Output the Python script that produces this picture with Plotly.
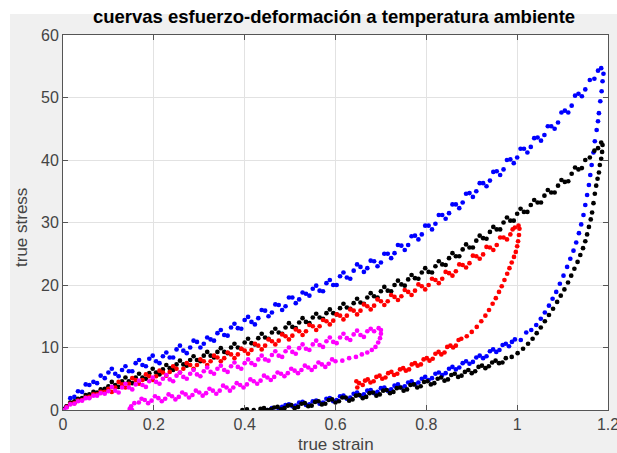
import plotly.graph_objects as go

# ---------------- data ----------------
title_text = "cuervas esfuerzo-deformación a temperatura ambiente"
x_label = "true strain"
y_label = "true stress"
x_ticks = [0, 0.2, 0.4, 0.6, 0.8, 1, 1.2]
y_ticks = [0, 10, 20, 30, 40, 50, 60]

# ---- blue loop ----
blue_load_x = [0.000, 0.008, 0.016, 0.025, 0.033, 0.042, 0.050, 0.058, 0.067, 0.075, 0.083, 0.092, 0.100, 0.115, 0.130, 0.145, 0.160, 0.175, 0.190, 0.205, 0.220, 0.235, 0.250, 0.265, 0.280, 0.295, 0.310, 0.325, 0.340, 0.355, 0.370, 0.385, 0.400, 0.415, 0.430, 0.445, 0.460, 0.475, 0.490, 0.505, 0.520, 0.535, 0.550, 0.565, 0.580, 0.595, 0.610, 0.625, 0.640, 0.655, 0.670, 0.685, 0.700, 0.715, 0.730, 0.745, 0.760, 0.775, 0.790, 0.805, 0.820, 0.835, 0.850, 0.865, 0.880, 0.895, 0.910, 0.925, 0.940, 0.955, 0.970, 0.985, 1.000, 1.015, 1.030, 1.045, 1.060, 1.075, 1.090, 1.105, 1.120, 1.135, 1.150, 1.160, 1.170, 1.178, 1.185]
blue_load_y = [0.2, 0.6, 1.9, 2.1, 3.0, 2.9, 4.1, 4.0, 4.5, 4.3, 5.5, 5.1, 6.0, 5.8, 6.4, 6.2, 7.5, 7.2, 8.2, 7.8, 8.6, 8.4, 9.7, 9.5, 10.0, 10.9, 10.6, 11.3, 12.3, 12.0, 13.2, 13.1, 14.4, 14.1, 14.7, 15.9, 15.6, 16.8, 16.6, 18.0, 17.7, 18.6, 19.4, 19.1, 20.3, 20.0, 21.4, 21.2, 22.3, 22.9, 22.7, 23.8, 23.6, 25.0, 25.1, 26.3, 26.4, 27.9, 28.1, 29.5, 29.8, 31.2, 31.5, 32.9, 33.2, 34.7, 35.0, 36.3, 36.7, 38.2, 38.5, 40.1, 40.4, 41.8, 42.1, 43.6, 44.0, 45.4, 46.0, 47.9, 48.7, 50.6, 51.3, 52.8, 53.0, 54.3, 54.7]
blue_load2_x = [0.1075, 0.1225, 0.1375, 0.1525, 0.1675, 0.1825, 0.1975, 0.2125, 0.2275, 0.2425, 0.2575, 0.2725, 0.2875, 0.3025, 0.3175, 0.3325, 0.3475, 0.3625, 0.3775, 0.3925, 0.4075, 0.4225, 0.4375, 0.4525, 0.4675, 0.4825, 0.4975, 0.5125, 0.5275, 0.5425, 0.5575, 0.5725, 0.5875, 0.6025, 0.6175, 0.6325, 0.6475, 0.6625, 0.6775, 0.6925, 0.7075, 0.7225, 0.7375, 0.7525, 0.7675, 0.7825, 0.7975, 0.8125, 0.8275, 0.8425, 0.8575, 0.8725, 0.8875, 0.9025, 0.9175, 0.9325, 0.9475, 0.9625, 0.9775, 0.9925, 1.0075, 1.0225, 1.0375, 1.0525, 1.0675, 1.0825, 1.0975, 1.1125, 1.1275, 1.1425]
blue_load2_y = [6.6, 5.4, 7.0, 6.2, 8.0, 7.0, 8.7, 7.5, 9.2, 8.4, 10.3, 9.1, 11.1, 10.0, 11.6, 11.1, 12.8, 11.9, 13.8, 13.0, 14.9, 13.7, 16.0, 15.0, 16.9, 16.0, 18.0, 17.1, 18.8, 18.3, 19.9, 19.0, 20.8, 20.0, 22.0, 21.0, 23.3, 22.1, 23.9, 23.0, 25.0, 24.3, 26.4, 25.6, 27.8, 27.3, 29.5, 28.9, 31.2, 30.6, 32.9, 32.3, 34.6, 34.1, 36.3, 35.8, 38.1, 37.6, 40.0, 39.5, 41.8, 41.2, 43.5, 43.1, 45.4, 45.0, 47.6, 47.6, 50.3, 50.2]
blue_unload_x = [1.190, 1.188, 1.186, 1.183, 1.180, 1.178, 1.175, 1.171, 1.168, 1.164, 1.161, 1.158, 1.154, 1.150, 1.146, 1.141, 1.136, 1.130, 1.124, 1.117, 1.110, 1.102, 1.094, 1.086, 1.078, 1.070, 1.061, 1.052, 1.042, 1.031, 1.020, 1.008, 0.995, 0.982, 0.968, 0.954, 0.940, 0.925, 0.910, 0.895, 0.880, 0.865, 0.850, 0.835, 0.820, 0.805, 0.790, 0.775, 0.760, 0.745, 0.730, 0.715, 0.700, 0.685, 0.670, 0.655, 0.640, 0.625, 0.610, 0.595, 0.580, 0.565, 0.550, 0.535, 0.520, 0.505, 0.490, 0.475, 0.460, 0.450]
blue_unload_y = [53.8, 52.6, 51.0, 49.4, 47.5, 46.2, 44.8, 43.0, 41.2, 39.2, 37.6, 36.0, 34.4, 32.8, 31.2, 29.7, 28.3, 26.8, 25.5, 24.2, 22.9, 21.5, 20.2, 18.9, 17.8, 16.7, 15.6, 14.6, 13.6, 12.8, 12.4, 11.2, 11.3, 10.2, 10.4, 9.3, 9.4, 8.3, 8.4, 7.4, 7.5, 6.5, 6.6, 5.6, 5.8, 4.8, 5.0, 4.1, 4.4, 3.6, 3.9, 3.1, 3.5, 2.7, 3.1, 2.3, 2.6, 1.8, 2.2, 1.4, 1.8, 1.0, 1.4, 0.8, 1.2, 0.6, 0.8, 0.2, 0.3, 0.0]
blue_unload2_x = [0.9885, 0.975, 0.961, 0.947, 0.9325, 0.9175, 0.9025, 0.8875, 0.8725, 0.8575, 0.8425, 0.8275, 0.8125, 0.7975, 0.7825, 0.7675, 0.7525, 0.7375, 0.7225, 0.7075, 0.6925, 0.6775, 0.6625, 0.6475, 0.6325, 0.6175, 0.6025, 0.5875, 0.5725, 0.5575, 0.5425, 0.5275, 0.5125, 0.4975, 0.4825]
blue_unload2_y = [10.9, 10.6, 9.6, 9.7, 8.6, 8.7, 7.7, 7.8, 6.8, 6.9, 5.9, 6.0, 5.1, 5.3, 4.4, 4.6, 3.8, 4.1, 3.3, 3.6, 2.9, 3.2, 2.5, 2.8, 2.0, 2.3, 1.6, 1.9, 1.2, 1.5, 0.9, 1.3, 0.7, 0.9, 0.5]

# ---- black loop ----
black_load_x = [0.000, 0.008, 0.016, 0.025, 0.033, 0.042, 0.050, 0.058, 0.067, 0.075, 0.083, 0.092, 0.100, 0.115, 0.130, 0.145, 0.160, 0.175, 0.190, 0.205, 0.220, 0.235, 0.250, 0.265, 0.280, 0.295, 0.310, 0.325, 0.340, 0.355, 0.370, 0.385, 0.400, 0.415, 0.430, 0.445, 0.460, 0.475, 0.490, 0.505, 0.520, 0.535, 0.550, 0.565, 0.580, 0.595, 0.610, 0.625, 0.640, 0.655, 0.670, 0.685, 0.700, 0.715, 0.730, 0.745, 0.760, 0.775, 0.790, 0.805, 0.820, 0.835, 0.850, 0.865, 0.880, 0.895, 0.910, 0.925, 0.940, 0.955, 0.970, 0.985, 1.000, 1.015, 1.030, 1.045, 1.060, 1.075, 1.090, 1.105, 1.120, 1.135, 1.150, 1.160, 1.170, 1.178, 1.185, 1.188]
black_load_y = [0.1, 0.6, 1.2, 1.4, 1.8, 1.9, 2.4, 2.5, 2.9, 2.8, 3.3, 3.4, 3.8, 4.0, 4.6, 4.6, 5.2, 5.2, 5.9, 6.0, 6.5, 6.7, 7.3, 7.3, 8.0, 8.0, 8.7, 8.7, 9.3, 9.3, 10.0, 10.0, 10.8, 10.7, 11.5, 11.6, 12.4, 12.4, 13.2, 13.3, 14.0, 14.1, 14.8, 14.8, 15.5, 15.5, 16.3, 16.4, 17.1, 17.2, 18.0, 18.2, 19.0, 19.1, 20.0, 20.1, 20.9, 21.1, 22.0, 22.1, 23.0, 23.3, 24.3, 24.6, 25.7, 26.0, 27.1, 27.5, 28.5, 28.9, 30.0, 30.3, 31.4, 31.7, 32.8, 33.2, 34.3, 34.8, 35.9, 36.5, 37.8, 38.5, 40.0, 40.4, 41.5, 41.9, 42.8, 42.4]
black_load2_x = [0.1075, 0.1225, 0.1375, 0.1525, 0.1675, 0.1825, 0.1975, 0.2125, 0.2275, 0.2425, 0.2575, 0.2725, 0.2875, 0.3025, 0.3175, 0.3325, 0.3475, 0.3625, 0.3775, 0.3925, 0.4075, 0.4225, 0.4375, 0.4525, 0.4675, 0.4825, 0.4975, 0.5125, 0.5275, 0.5425, 0.5575, 0.5725, 0.5875, 0.6025, 0.6175, 0.6325, 0.6475, 0.6625, 0.6775, 0.6925, 0.7075, 0.7225, 0.7375, 0.7525, 0.7675, 0.7825, 0.7975, 0.8125, 0.8275, 0.8425, 0.8575, 0.8725, 0.8875, 0.9025, 0.9175, 0.9325, 0.9475, 0.9625, 0.9775, 0.9925, 1.0075, 1.0225, 1.0375, 1.0525, 1.0675, 1.0825, 1.0975, 1.1125, 1.1275, 1.1425]
black_load2_y = [4.5, 3.7, 5.2, 4.3, 5.8, 5.0, 6.6, 5.7, 7.2, 6.4, 7.9, 7.1, 8.6, 7.8, 9.3, 8.4, 9.9, 9.1, 10.6, 9.8, 11.4, 10.5, 12.2, 11.4, 13.0, 12.2, 13.9, 13.1, 14.7, 13.9, 15.4, 14.6, 16.1, 15.3, 17.0, 16.2, 17.8, 17.0, 18.7, 18.0, 19.7, 19.0, 20.7, 19.9, 21.6, 21.0, 22.7, 22.0, 23.8, 23.2, 25.1, 24.6, 26.5, 26.0, 27.9, 27.4, 29.3, 28.9, 30.8, 30.3, 32.2, 31.7, 33.6, 33.2, 35.2, 34.8, 36.8, 36.6, 38.8, 38.7]
black_unload_x = [1.187, 1.185, 1.182, 1.180, 1.177, 1.174, 1.171, 1.168, 1.165, 1.162, 1.158, 1.154, 1.150, 1.145, 1.139, 1.133, 1.126, 1.119, 1.112, 1.104, 1.096, 1.088, 1.079, 1.070, 1.061, 1.052, 1.043, 1.034, 1.024, 1.013, 1.001, 0.988, 0.975, 0.960, 0.945, 0.930, 0.915, 0.900, 0.885, 0.870, 0.855, 0.840, 0.825, 0.810, 0.795, 0.780, 0.765, 0.750, 0.735, 0.720, 0.705, 0.690, 0.675, 0.660, 0.645, 0.630, 0.615, 0.600, 0.585, 0.570, 0.555, 0.540, 0.525, 0.510, 0.495, 0.480, 0.465, 0.450, 0.435, 0.420, 0.405, 0.395]
black_unload_y = [41.3, 40.2, 39.2, 38.0, 37.0, 35.9, 34.6, 33.1, 31.6, 30.5, 29.3, 28.1, 27.0, 25.9, 24.8, 23.7, 22.6, 21.5, 20.4, 19.3, 18.3, 17.3, 16.2, 15.2, 14.2, 13.2, 12.3, 11.4, 10.6, 9.8, 9.1, 8.5, 8.3, 7.5, 7.6, 6.7, 6.9, 5.9, 6.1, 5.3, 5.6, 4.7, 5.0, 4.1, 4.5, 3.6, 4.0, 3.1, 3.5, 2.7, 3.1, 2.3, 2.7, 1.9, 2.3, 1.5, 2.0, 1.2, 1.6, 0.9, 1.3, 0.6, 1.0, 0.3, 0.7, 0.1, 0.4, 0.0, 0.2, 0.0, 0.1, 0.0]
black_unload2_x = [0.9675, 0.9525, 0.9375, 0.9225, 0.9075, 0.8925, 0.8775, 0.8625, 0.8475, 0.8325, 0.8175, 0.8025, 0.7875, 0.7725, 0.7575, 0.7425, 0.7275, 0.7125, 0.6975, 0.6825, 0.6675, 0.6525, 0.6375, 0.6225, 0.6075, 0.5925, 0.5775, 0.5625, 0.5475, 0.5325, 0.5175, 0.5025, 0.4875, 0.4725, 0.4575, 0.4425]
black_unload2_y = [7.6, 7.9, 7.0, 7.1, 6.2, 6.4, 5.5, 5.8, 4.9, 5.2, 4.3, 4.6, 3.8, 4.1, 3.3, 3.6, 2.9, 3.2, 2.5, 2.8, 2.1, 2.4, 1.7, 2.0, 1.4, 1.7, 1.0, 1.4, 0.7, 1.1, 0.5, 0.8, 0.3, 0.5, 0.1, 0.3]

# ---- red loop ----
red_load_x = [0.000, 0.008, 0.016, 0.025, 0.033, 0.042, 0.050, 0.058, 0.067, 0.075, 0.083, 0.092, 0.100, 0.115, 0.130, 0.145, 0.160, 0.175, 0.190, 0.205, 0.220, 0.235, 0.250, 0.265, 0.280, 0.295, 0.310, 0.325, 0.340, 0.355, 0.370, 0.385, 0.400, 0.415, 0.430, 0.445, 0.460, 0.475, 0.490, 0.505, 0.520, 0.535, 0.550, 0.565, 0.580, 0.595, 0.610, 0.625, 0.640, 0.655, 0.670, 0.685, 0.700, 0.715, 0.730, 0.745, 0.760, 0.775, 0.790, 0.805, 0.820, 0.835, 0.850, 0.865, 0.880, 0.895, 0.910, 0.925, 0.940, 0.955, 0.970, 0.985, 0.995, 1.003]
red_load_y = [0.0, 0.5, 1.0, 1.1, 1.5, 1.6, 2.0, 2.1, 2.5, 2.5, 2.9, 2.9, 3.4, 3.6, 4.1, 4.2, 4.8, 4.8, 5.4, 5.4, 6.0, 6.1, 6.6, 6.6, 7.2, 7.2, 7.8, 7.8, 8.4, 8.3, 8.9, 8.9, 9.5, 9.6, 10.3, 10.3, 11.0, 11.1, 11.8, 11.9, 12.6, 12.6, 13.4, 13.4, 14.2, 14.3, 15.1, 15.1, 15.9, 15.9, 16.6, 16.7, 17.4, 17.4, 18.1, 18.2, 18.9, 19.1, 19.8, 20.0, 20.8, 21.0, 21.9, 22.2, 23.2, 23.5, 24.6, 24.9, 26.0, 26.4, 27.6, 28.1, 29.2, 29.5]
red_load2_x = [0.1075, 0.1225, 0.1375, 0.1525, 0.1675, 0.1825, 0.1975, 0.2125, 0.2275, 0.2425, 0.2575, 0.2725, 0.2875, 0.3025, 0.3175, 0.3325, 0.3475, 0.3625, 0.3775, 0.3925, 0.4075, 0.4225, 0.4375, 0.4525, 0.4675, 0.4825, 0.4975, 0.5125, 0.5275, 0.5425, 0.5575, 0.5725, 0.5875, 0.6025, 0.6175, 0.6325, 0.6475, 0.6625, 0.6775, 0.6925, 0.7075, 0.7225, 0.7375, 0.7525, 0.7675, 0.7825, 0.7975, 0.8125, 0.8275, 0.8425, 0.8575, 0.8725, 0.8875, 0.9025, 0.9175, 0.9325, 0.9475, 0.9625, 0.9775, 0.9900]
red_load2_y = [2.9, 4.5, 3.6, 5.1, 4.2, 5.7, 4.8, 6.3, 5.5, 7.0, 6.0, 7.5, 6.6, 8.1, 7.2, 8.7, 7.8, 9.2, 8.3, 9.8, 9.0, 10.6, 9.7, 11.3, 10.5, 12.1, 11.3, 12.9, 12.0, 13.6, 12.8, 14.4, 13.7, 15.3, 14.5, 16.1, 15.3, 16.9, 16.1, 17.7, 16.8, 18.4, 17.6, 19.2, 18.4, 20.1, 19.3, 21.0, 20.3, 22.1, 21.5, 23.3, 22.8, 24.7, 24.2, 26.1, 25.6, 27.6, 27.3, 28.9]
red_unload_x = [1.005, 1.004, 1.002, 1.000, 0.997, 0.993, 0.988, 0.983, 0.978, 0.972, 0.966, 0.960, 0.953, 0.946, 0.938, 0.930, 0.921, 0.911, 0.900, 0.889, 0.877, 0.865, 0.853, 0.840, 0.827, 0.814, 0.801, 0.788, 0.775, 0.762, 0.749, 0.736, 0.723, 0.710, 0.697, 0.684, 0.671, 0.660, 0.652, 0.648, 0.646]
red_unload_y = [29.0, 28.0, 27.0, 26.2, 25.3, 24.5, 23.6, 22.7, 21.8, 20.8, 19.8, 18.9, 17.9, 17.0, 16.0, 15.1, 14.2, 13.3, 12.5, 11.8, 11.4, 10.3, 10.3, 9.2, 9.3, 8.2, 8.3, 7.3, 7.5, 6.5, 6.7, 5.8, 6.1, 5.2, 5.5, 4.6, 4.9, 4.0, 4.3, 3.6, 4.6]
red_unload2_x = [0.871, 0.859, 0.846, 0.833, 0.820, 0.807, 0.794, 0.781, 0.768, 0.755, 0.742, 0.729, 0.716, 0.703, 0.690, 0.677, 0.665]
red_unload2_y = [11.2, 10.0, 10.1, 8.9, 9.0, 7.9, 8.1, 7.1, 7.3, 6.3, 6.5, 5.6, 5.9, 5.0, 5.3, 4.4, 4.7]

# ---- magenta loop ----
magenta_load_x = [0.000, 0.008, 0.016, 0.025, 0.033, 0.042, 0.050, 0.058, 0.067, 0.075, 0.083, 0.092, 0.100, 0.115, 0.130, 0.145, 0.160, 0.175, 0.190, 0.205, 0.220, 0.235, 0.250, 0.265, 0.280, 0.295, 0.310, 0.325, 0.340, 0.355, 0.370, 0.385, 0.400, 0.415, 0.430, 0.445, 0.460, 0.475, 0.490, 0.505, 0.520, 0.535, 0.550, 0.565, 0.580, 0.595, 0.610, 0.625, 0.640, 0.655, 0.670, 0.685, 0.695, 0.700]
magenta_load_y = [0.0, 0.4, 0.9, 1.0, 1.4, 1.5, 1.9, 1.9, 2.3, 2.3, 2.7, 2.6, 3.0, 3.1, 3.6, 3.6, 4.1, 4.0, 4.6, 4.5, 5.0, 4.9, 5.5, 5.3, 5.8, 5.7, 6.2, 6.1, 6.6, 6.4, 7.0, 6.9, 7.5, 7.5, 8.1, 8.1, 8.8, 8.7, 9.4, 9.3, 9.9, 9.8, 10.5, 10.4, 11.0, 10.9, 11.6, 11.5, 12.1, 12.0, 12.6, 12.6, 13.1, 12.8]
magenta_load2_x = [0.1075, 0.1225, 0.1375, 0.1525, 0.1675, 0.1825, 0.1975, 0.2125, 0.2275, 0.2425, 0.2575, 0.2725, 0.2875, 0.3025, 0.3175, 0.3325, 0.3475, 0.3625, 0.3775, 0.3925, 0.4075, 0.4225, 0.4375, 0.4525, 0.4675, 0.4825, 0.4975, 0.5125, 0.5275, 0.5425, 0.5575, 0.5725, 0.5875, 0.6025, 0.6175, 0.6325, 0.6475, 0.6625, 0.6775]
magenta_load2_y = [3.7, 2.8, 4.2, 3.3, 4.7, 3.7, 5.2, 4.2, 5.6, 4.6, 6.0, 5.0, 6.4, 5.4, 6.8, 5.8, 7.1, 6.1, 7.6, 6.6, 8.1, 7.2, 8.7, 7.9, 9.4, 8.5, 10.0, 9.0, 10.5, 9.6, 11.1, 10.1, 11.6, 10.7, 12.2, 11.2, 12.7, 11.7, 13.0]
magenta_unload_x = [0.700, 0.698, 0.694, 0.688, 0.680, 0.670, 0.658, 0.645, 0.630, 0.615, 0.600, 0.585, 0.570, 0.555, 0.540, 0.525, 0.510, 0.495, 0.480, 0.465, 0.450, 0.435, 0.420, 0.405, 0.390, 0.375, 0.360, 0.345, 0.330, 0.315, 0.300, 0.285, 0.270, 0.255, 0.240, 0.225, 0.210, 0.195, 0.180, 0.167, 0.157, 0.150, 0.147, 0.152]
magenta_unload_y = [12.2, 11.5, 10.8, 10.1, 9.6, 9.2, 8.9, 8.5, 8.3, 7.9, 7.8, 7.4, 7.3, 6.9, 6.8, 6.4, 6.3, 5.9, 5.8, 5.3, 5.2, 4.7, 4.6, 4.1, 4.0, 3.6, 3.6, 3.1, 3.1, 2.7, 2.8, 2.4, 2.5, 2.1, 2.2, 1.8, 1.9, 1.5, 1.6, 1.2, 1.1, 0.6, 0.2, 0.0]
magenta_unload2_x = [0.5925, 0.5775, 0.5625, 0.5475, 0.5325, 0.5175, 0.5025, 0.4875, 0.4725, 0.4575, 0.4425, 0.4275, 0.4125, 0.3975, 0.3825, 0.3675, 0.3525, 0.3375, 0.3225, 0.3075, 0.2925, 0.2775, 0.2625, 0.2475, 0.2325, 0.2175, 0.2025, 0.1875, 0.1730]
magenta_unload2_y = [8.1, 6.9, 7.6, 6.4, 7.1, 5.9, 6.6, 5.4, 6.0, 4.8, 5.5, 4.2, 4.9, 3.6, 4.3, 3.1, 3.9, 2.6, 3.4, 2.3, 3.1, 2.0, 2.8, 1.7, 2.5, 1.4, 2.2, 1.1, 1.8]

series = [
    ("blue", "#0000FF",
     blue_load_x + blue_load2_x + blue_unload_x + blue_unload2_x,
     blue_load_y + blue_load2_y + blue_unload_y + blue_unload2_y),
    ("black", "#000000",
     black_load_x + black_load2_x + black_unload_x + black_unload2_x,
     black_load_y + black_load2_y + black_unload_y + black_unload2_y),
    ("red", "#FF0000",
     red_load_x + red_load2_x + red_unload_x + red_unload2_x,
     red_load_y + red_load2_y + red_unload_y + red_unload2_y),
    ("magenta", "#FF00FF",
     magenta_load_x + magenta_load2_x + magenta_unload_x + magenta_unload2_x,
     magenta_load_y + magenta_load2_y + magenta_unload_y + magenta_unload2_y),
]

# ---------------- figure ----------------
W, H = 617, 453
PLOT_L, PLOT_R, PLOT_T, PLOT_B = 63, 608, 35, 410      # pixels
ML, MR, MT, MB = PLOT_L, W - PLOT_R, PLOT_T, H - PLOT_B
PW, PH = PLOT_R - PLOT_L, PLOT_B - PLOT_T
FONT = "Liberation Sans, Arial, sans-serif"


def px(xp):
    return (xp - PLOT_L) / PW


def py(yp):
    return (PLOT_B - yp) / PH


fig = go.Figure()
for name, color, xs, ys in series:
    fig.add_trace(go.Scatter(
        x=xs, y=ys, mode="markers", name=name,
        marker=dict(color=color, size=4.7, line=dict(width=0)),
        showlegend=False, cliponaxis=True, hoverinfo="skip",
    ))

axis_common = dict(
    showgrid=True, gridcolor="#E2E2E2", gridwidth=1,
    zeroline=False, automargin=False,
    showline=True, linecolor="#555555", linewidth=1, mirror="ticks",
    ticks="inside", ticklen=5, tickcolor="#555555", tickwidth=1,
    ticklabeloverflow="allow",
    tickfont=dict(family=FONT, size=16, color="#444444"),
)

fig.update_xaxes(range=[0, 1.2], tickvals=x_ticks,
                 ticktext=[str(v) for v in x_ticks], **axis_common)
fig.update_yaxes(range=[0, 60], tickvals=y_ticks, **axis_common)

fig.update_layout(
    width=W, height=H,
    margin=dict(l=ML, r=MR, t=MT, b=MB, pad=0, autoexpand=False),
    paper_bgcolor="#F0F0F0",
    plot_bgcolor="#FFFFFF",
    title=dict(text="<b>" + title_text + "</b>", x=px(334), xref="paper", xanchor="center",
               y=1 - 17 / H, yref="container", yanchor="middle", automargin=False,
               font=dict(family=FONT, size=18.5, color="#000000")),
    annotations=[
        dict(text=x_label, x=0.5, y=py(444), xref="paper", yref="paper",
             xanchor="center", yanchor="middle", showarrow=False,
             font=dict(family=FONT, size=17, color="#444444")),
        dict(text=y_label, x=px(22), y=py(228), xref="paper", yref="paper", textangle=-90,
             xanchor="center", yanchor="middle", showarrow=False,
             font=dict(family=FONT, size=17, color="#444444")),
    ],
    shapes=[
        dict(type="rect", xref="paper", yref="paper", layer="below",
             x0=px(0), x1=px(W), y0=py(14), y1=py(0),
             fillcolor="#FFFFFF", line=dict(width=0)),
        dict(type="rect", xref="paper", yref="paper", layer="below",
             x0=px(0), x1=px(10), y0=py(H), y1=py(0),
             fillcolor="#FFFFFF", line=dict(width=0)),
    ],
)

# remove the default 8px page margin so the figure fills the window exactly
fig.write_html("out.html", config={"displayModeBar": False},
               post_script="document.body.style.margin='0';")
